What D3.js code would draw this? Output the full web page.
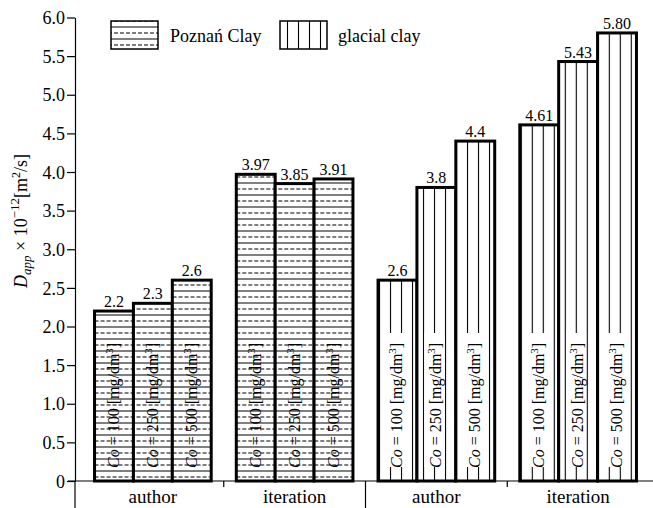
<!DOCTYPE html>
<html>
<head>
<meta charset="utf-8">
<script src="https://cdn.jsdelivr.net/npm/d3@7"></script>
<style>
  body { margin: 0; background: #fff; }
  svg { display: block; }
  svg text { font-family: "Liberation Serif", "Times New Roman", serif; }
</style>
</head>
<body>
<div id="chart"></div>
<script>
const methods = ["author", "iteration"];
const clays = ["Poznań Clay", "glacial clay"];
const concentrations = [100, 250, 500];
const poznanValues = [[2.2, 2.3, 2.6], [3.97, 3.85, 3.91]];
const glacialValues = [[2.6, 3.8, 4.4], [4.61, 5.43, 5.80]];
const poznanLabels = [["2.2", "2.3", "2.6"], ["3.97", "3.85", "3.91"]];
const glacialLabels = [["2.6", "3.8", "4.4"], ["4.61", "5.43", "5.80"]];
const yTicks = [0, 0.5, 1.0, 1.5, 2.0, 2.5, 3.0, 3.5, 4.0, 4.5, 5.0, 5.5, 6.0];

const width = 653, height = 508;
const baseY = 481;

const svg = d3.select("#chart").append("svg")
    .attr("width", width)
    .attr("height", height);

// hatch patterns
const defs = svg.append("defs");
const pz = defs.append("pattern")
    .attr("id", "poznan")
    .attr("patternUnits", "userSpaceOnUse")
    .attr("width", 12).attr("height", 12);
pz.append("rect").attr("width", 12).attr("height", 12).attr("fill", "#fff");
pz.append("line").attr("x1", 0).attr("x2", 12).attr("y1", 3).attr("y2", 3)
    .attr("stroke", "#555").attr("stroke-width", 1.5);
pz.append("line").attr("x1", 0).attr("x2", 12).attr("y1", 9).attr("y2", 9)
    .attr("stroke", "#000").attr("stroke-width", 1.2).attr("stroke-dasharray", "4,2");

const gl = defs.append("pattern")
    .attr("id", "glacial")
    .attr("patternUnits", "userSpaceOnUse")
    .attr("width", 11).attr("height", 10);
gl.append("rect").attr("width", 11).attr("height", 10).attr("fill", "#fff");
gl.append("line").attr("x1", 1.5).attr("x2", 1.5).attr("y1", 0).attr("y2", 10)
    .attr("stroke", "#000").attr("stroke-width", 1.1);

// groups: one per (clay, method)
const groups = [];
clays.forEach((clay, ci) => {
    methods.forEach((m, mi) => {
        const vals = ci === 0 ? poznanValues[mi] : glacialValues[mi];
        const labs = ci === 0 ? poznanLabels[mi] : glacialLabels[mi];
        groups.push({
            key: clay + "|" + m,
            clay: ci,
            method: m,
            bars: concentrations.map((c, k) => ({ co: c, value: vals[k], label: labs[k], clay: ci }))
        });
    });
});

const x = d3.scaleBand()
    .domain(groups.map(g => g.key))
    .range([82, 649])
    .paddingInner(0.177)
    .paddingOuter(0.0885);

const xInner = d3.scaleBand()
    .domain(concentrations)
    .range([0, x.bandwidth()]);

const y = d3.scaleLinear()
    .domain([0, 6])
    .range([baseY, baseY - 6 * 77.25]);

// y axis
const yAxis = svg.append("g")
    .attr("transform", "translate(75,0)")
    .call(d3.axisLeft(y).tickValues(yTicks).tickSize(8).tickSizeOuter(0)
        .tickFormat(d => d === 0 ? "0" : d.toFixed(1)))
    .attr("font-family", null)
    .attr("font-size", null);
yAxis.selectAll("text")
    .attr("x", -10)
    .attr("dy", "0.34em")
    .style("font-size", "18px")
    .attr("fill", "#000");
yAxis.selectAll("line, path").attr("stroke", "#000").attr("stroke-width", 1.2);
svg.append("line")
    .attr("x1", 75).attr("x2", 75)
    .attr("y1", baseY).attr("y2", height)
    .attr("stroke", "#000").attr("stroke-width", 1.2);

// baseline
svg.append("line")
    .attr("x1", 68).attr("x2", width)
    .attr("y1", baseY).attr("y2", baseY)
    .attr("stroke", "#000").attr("stroke-width", 1.2);

// category separators
groups.slice(1).forEach((g, i) => {
    const xs = x(g.key) - x.step() * x.paddingInner() / 2;
    svg.append("line")
        .attr("x1", xs).attr("x2", xs)
        .attr("y1", baseY).attr("y2", i === 1 ? height : baseY + 6)
        .attr("stroke", "#000").attr("stroke-width", 1.2);
});

// category labels
svg.selectAll(".cat")
    .data(groups)
    .enter().append("text")
    .attr("class", "cat")
    .attr("x", d => x(d.key) + x.bandwidth() / 2)
    .attr("y", 503)
    .attr("text-anchor", "middle")
    .style("font-size", "19px")
    .text(d => d.method);

// bars
const g = svg.selectAll(".grp")
    .data(groups)
    .enter().append("g")
    .attr("class", "grp")
    .attr("transform", d => `translate(${x(d.key)},0)`);

const bar = g.selectAll(".bar")
    .data(d => d.bars)
    .enter().append("g")
    .attr("class", "bar");

bar.append("rect")
    .attr("x", d => xInner(d.co))
    .attr("y", d => y(d.value))
    .attr("width", xInner.bandwidth())
    .attr("height", d => baseY - y(d.value))
    .attr("fill", d => d.clay === 0 ? "url(#poznan)" : "url(#glacial)");

// white boxes behind text in glacial bars
bar.filter(d => d.clay === 1).append("rect")
    .attr("x", d => xInner(d.co) + xInner.bandwidth() / 2 - 12)
    .attr("y", 333)
    .attr("width", 20)
    .attr("height", 134)
    .attr("fill", "#fff");

bar.append("rect")
    .attr("x", d => xInner(d.co))
    .attr("y", d => y(d.value))
    .attr("width", xInner.bandwidth())
    .attr("height", d => baseY - y(d.value))
    .attr("fill", "none")
    .attr("stroke", "#000")
    .attr("stroke-width", 3);

// concentration labels inside bars
const inner = bar.append("text")
    .attr("transform", d => `translate(${xInner(d.co) + xInner.bandwidth() / 2 + 5},468) rotate(-90)`)
    .style("font-size", "16px");
inner.append("tspan").style("font-style", "italic").text("Co");
inner.append("tspan").text(d => ` = ${d.co} [mg/dm`);
inner.append("tspan").attr("dy", -6).style("font-size", "11px").text("3");
inner.append("tspan").attr("dy", 6).text("]");

// value labels
bar.append("text")
    .attr("x", d => xInner(d.co) + xInner.bandwidth() / 2)
    .attr("y", d => y(d.value) - 4)
    .attr("text-anchor", "middle")
    .style("font-size", "16px")
    .text(d => d.label);

// y axis title
const yt = svg.append("text")
    .attr("transform", "translate(27,221) rotate(-90)")
    .attr("text-anchor", "middle")
    .style("font-size", "18px");
yt.append("tspan").style("font-style", "italic").text("D");
yt.append("tspan").attr("dy", 4).style("font-style", "italic").style("font-size", "13px").text("app");
yt.append("tspan").attr("dy", -4).text(" × 10");
yt.append("tspan").attr("dy", -8).style("font-size", "13px").text("−12");
yt.append("tspan").attr("dy", 8).text("[m");
yt.append("tspan").attr("dy", -7).style("font-size", "12px").text("2");
yt.append("tspan").attr("dy", 7).text("/s]");

// legend
const legend = svg.append("g");
const legendItems = [
    { name: clays[0], fill: "url(#poznan)", x: 111, tx: 170 },
    { name: clays[1], fill: "url(#glacial)", x: 280, tx: 338 }
];
legend.selectAll("rect")
    .data(legendItems)
    .enter().append("rect")
    .attr("x", d => d.x).attr("y", 21)
    .attr("width", 47).attr("height", 28)
    .attr("fill", d => d.fill)
    .attr("stroke", "#000").attr("stroke-width", 1.5);
legend.selectAll("text")
    .data(legendItems)
    .enter().append("text")
    .attr("x", d => d.tx).attr("y", 42)
    .style("font-size", "18px")
    .text(d => d.name);
</script>
</body>
</html>
